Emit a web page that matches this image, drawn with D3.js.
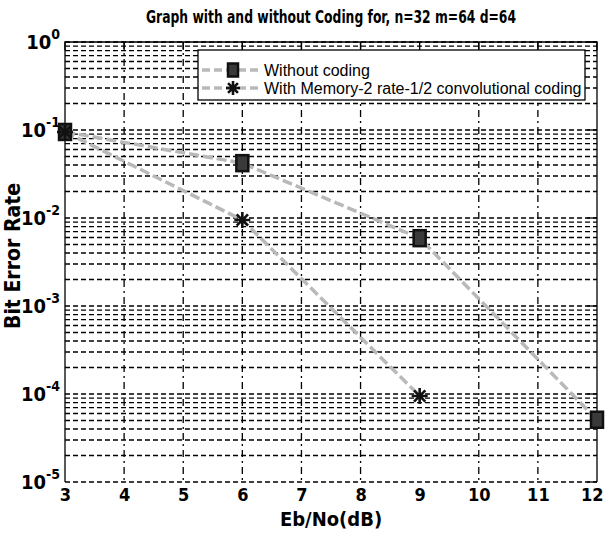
<!DOCTYPE html>
<meta charset="UTF-8">
<title>BER with and without coding</title>
<style>
  body { margin: 0; background: #fff; }
  svg { display: block; }
  .bold { font-family: "Liberation Sans Narrow", "DejaVu Sans Condensed", sans-serif; font-weight: bold; fill: #000; }
</style>
<script src="https://d3js.org/d3.v7.min.js"></script>
<body>
<script>
  // values
  var ebnoUncoded = [3, 6, 9, 12];
  var berUncoded = [0.095, 0.042, 0.0059, 5.1e-5];
  var ebnoCoded = [3, 6, 9];
  var berCoded = [0.095, 0.0095, 9.5e-5];
  var xTicks = [3, 4, 5, 6, 7, 8, 9, 10, 11, 12];
  var yTicks = [1e-5, 1e-4, 1e-3, 1e-2, 1e-1, 1];
  var legendLabels = ["Without coding", "With Memory-2 rate-1/2 convolutional coding"];

  var W = 605, H = 533;
  var svg = d3.select("body").append("svg").attr("width", W).attr("height", H);

  var x = d3.scaleLinear().domain([3, 12]).range([65, 597]);
  var y = d3.scaleLog().domain([1e-5, 1]).range([482, 42]);

  // horizontal grid : every 1..9 x 10^k
  var minor = [];
  for (var k = -5; k < 0; k++) {
    for (var m = 1; m < 10; m++) minor.push(m * Math.pow(10, k));
  }
  minor.push(1);

  svg.append("g").selectAll("line").data(minor).enter().append("line")
    .attr("x1", x(3)).attr("x2", x(12))
    .attr("y1", function(d) { return y(d); }).attr("y2", function(d) { return y(d); })
    .style("stroke", "#000").style("stroke-width", 1.3)
    .style("stroke-dasharray", "5,3");

  // vertical grid (the picture has no line at 9)
  svg.append("g").selectAll("line").data(xTicks.filter(function(d) { return d > 3 && d < 12 && d != 9; }))
    .enter().append("line")
    .attr("x1", function(d) { return x(d); }).attr("x2", function(d) { return x(d); })
    .attr("y1", y(1)).attr("y2", y(1e-5))
    .style("stroke", "#000").style("stroke-width", 1.3)
    .style("stroke-dasharray", "7,4,2,4");

  // frame: left, top, right
  svg.append("path")
    .attr("d", "M" + x(3) + "," + y(1e-5) + "V" + y(1) + "H" + x(12) + "V" + y(1e-5))
    .style("fill", "none").style("stroke", "#000").style("stroke-width", 1.3);

  // y axis labels 10^k
  var yAxis = d3.axisLeft(y).tickValues(yTicks).tickSize(0).tickPadding(5);
  var gy = svg.append("g").attr("transform", "translate(" + x(3) + ",0)").call(yAxis);
  gy.select(".domain").remove();
  gy.selectAll(".tick text").attr("class", "bold").style("font-size", "20px")
    .each(function(d) {
      var t = d3.select(this);
      t.text(null);
      t.append("tspan").text("10");
      t.append("tspan").attr("dy", -10).style("font-size", "14px")
        .text(String(Math.round(Math.log10(d))));
    });

  // right inward ticks
  svg.append("g").selectAll("line").data(yTicks).enter().append("line")
    .attr("x1", x(12) - 10).attr("x2", x(12))
    .attr("y1", function(d) { return y(d); }).attr("y2", function(d) { return y(d); })
    .style("stroke", "#000").style("stroke-width", 1.3);

  // x axis
  var xAxis = d3.axisBottom(x).tickValues(xTicks).tickSize(0).tickPadding(6).tickFormat(d3.format("d"));
  var gx = svg.append("g").attr("transform", "translate(0," + y(1e-5) + ")").call(xAxis);
  gx.select(".domain").remove();
  gx.selectAll(".tick text").attr("class", "bold").style("font-size", "18px");
  // last label sits on the right edge
  gx.selectAll(".tick text").filter(function(d) { return d == 12; }).attr("text-anchor", "end").attr("x", 6);

  // top inward ticks
  svg.append("g").selectAll("line").data(xTicks).enter().append("line")
    .attr("x1", function(d) { return x(d); }).attr("x2", function(d) { return x(d); })
    .attr("y1", y(1)).attr("y2", y(1) + 8)
    .style("stroke", "#000").style("stroke-width", 1.3);

  // lines
  var line = d3.line().x(function(d) { return x(d[0]); }).y(function(d) { return y(d[1]); });
  var uncoded = d3.zip(ebnoUncoded, berUncoded);
  var coded = d3.zip(ebnoCoded, berCoded);

  [uncoded, coded].forEach(function(s) {
    svg.append("path").datum(s).attr("d", line)
      .style("fill", "none").style("stroke", "#b9b9b9").style("stroke-width", 3.5)
      .style("stroke-dasharray", "10,4");
  });

  function star(r) {
    var p = d3.path();
    for (var i = 0; i < 4; i++) {
      var a = i * Math.PI / 4;
      p.moveTo(-r * Math.cos(a), -r * Math.sin(a));
      p.lineTo(r * Math.cos(a), r * Math.sin(a));
    }
    return p.toString();
  }

  function drawSquare(g, w, h) {
    g.append("rect").attr("x", -w / 2).attr("y", -h / 2).attr("width", w).attr("height", h)
      .style("fill", "#3a3a3a").style("stroke", "#111").style("stroke-width", 2.5);
  }
  function drawStar(g, r) {
    g.append("path").attr("d", star(r))
      .style("fill", "none").style("stroke", "#111").style("stroke-width", 2.6);
  }

  svg.append("g").selectAll("g").data(uncoded).enter().append("g")
    .attr("transform", function(d) { return "translate(" + x(d[0]) + "," + y(d[1]) + ")"; })
    .each(function() { drawSquare(d3.select(this), 12, 16); });

  svg.append("g").selectAll("g").data(coded).enter().append("g")
    .attr("transform", function(d) { return "translate(" + x(d[0]) + "," + y(d[1]) + ")"; })
    .each(function() { drawStar(d3.select(this), 8); });

  // legend
  var lg = svg.append("g");
  lg.append("rect").attr("x", 198).attr("y", 50).attr("width", 387).attr("height", 50)
    .style("fill", "#fff").style("stroke", "#000").style("stroke-width", 1.3);
  legendLabels.forEach(function(lab, i) {
    var cy = 70 + i * 18;
    lg.append("line").attr("x1", 202).attr("x2", 258).attr("y1", cy).attr("y2", cy)
      .style("stroke", "#b9b9b9").style("stroke-width", 3.5).style("stroke-dasharray", "8,4");
    var mk = lg.append("g").attr("transform", "translate(233," + cy + ")");
    if (i == 0) drawSquare(mk, 10, 13); else drawStar(mk, 7);
    lg.append("text").attr("x", 264).attr("y", cy).attr("dy", "0.36em")
      .style("font-family", "'Liberation Sans', Arial, sans-serif").style("font-size", "16px")
      .text(lab);
  });

  // titles
  svg.append("text").attr("class", "bold").attr("x", 331).attr("y", 23)
    .attr("text-anchor", "middle").style("font-size", "17px")
    .attr("textLength", 370).attr("lengthAdjust", "spacingAndGlyphs")
    .text("Graph with and without Coding for, n=32 m=64 d=64");

  svg.append("text").attr("class", "bold").attr("x", 331).attr("y", 526)
    .attr("text-anchor", "middle").style("font-size", "20px")
    .text("Eb/No(dB)");

  svg.append("text").attr("class", "bold")
    .attr("transform", "translate(20,256) rotate(-90)")
    .attr("text-anchor", "middle").style("font-size", "21px")
    .text("Bit Error Rate");
</script>
</body>
